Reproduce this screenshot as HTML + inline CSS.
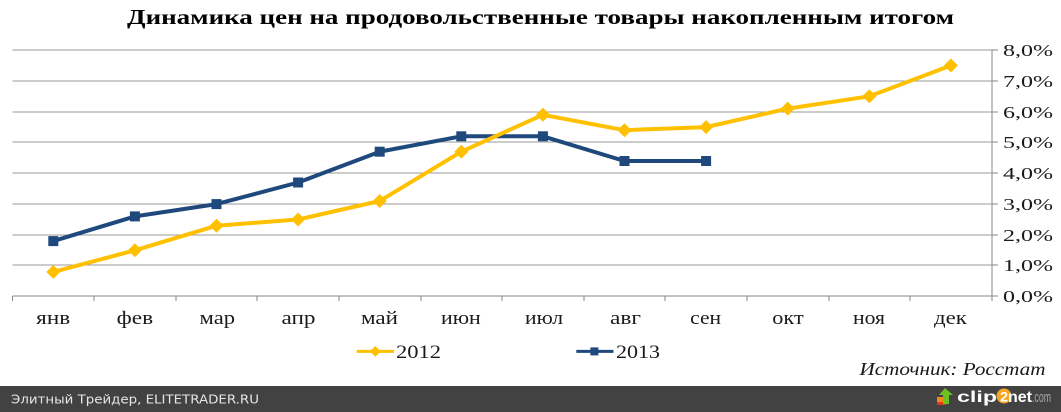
<!DOCTYPE html>
<html>
<head>
<meta charset="utf-8">
<style>
html,body{margin:0;padding:0;background:#fff;}
svg{display:block;}
</style>
</head>
<body>
<svg width="1061" height="412" viewBox="0 0 1061 412" xmlns="http://www.w3.org/2000/svg">
<rect x="0" y="0" width="1061" height="412" fill="#ffffff"/>
<!-- Title -->
<text x="540.5" y="24" text-anchor="middle" font-family="'Liberation Serif', serif" font-weight="bold" font-size="21" textLength="827" lengthAdjust="spacingAndGlyphs" fill="#000">Динамика цен на продовольственные товары накопленным итогом</text>

<!-- Gridlines -->
<g stroke="#999" stroke-width="1" shape-rendering="crispEdges">
<line x1="12.5" y1="50" x2="992" y2="50"/>
<line x1="12.5" y1="81" x2="992" y2="81"/>
<line x1="12.5" y1="112" x2="992" y2="112"/>
<line x1="12.5" y1="142" x2="992" y2="142"/>
<line x1="12.5" y1="173" x2="992" y2="173"/>
<line x1="12.5" y1="204" x2="992" y2="204"/>
<line x1="12.5" y1="235" x2="992" y2="235"/>
<line x1="12.5" y1="265" x2="992" y2="265"/>
</g>
<!-- Axes -->
<g stroke="#868686" stroke-width="1" shape-rendering="crispEdges">
<line x1="12.5" y1="296" x2="992" y2="296"/>
<line x1="992" y1="50" x2="992" y2="296"/>
<line x1="992" y1="50" x2="998" y2="50"/>
<line x1="992" y1="81" x2="998" y2="81"/>
<line x1="992" y1="112" x2="998" y2="112"/>
<line x1="992" y1="142" x2="998" y2="142"/>
<line x1="992" y1="173" x2="998" y2="173"/>
<line x1="992" y1="204" x2="998" y2="204"/>
<line x1="992" y1="235" x2="998" y2="235"/>
<line x1="992" y1="265" x2="998" y2="265"/>
<line x1="992" y1="296" x2="998" y2="296"/>
<line x1="12.5" y1="296" x2="12.5" y2="301"/>
<line x1="94" y1="296" x2="94" y2="301"/>
<line x1="176" y1="296" x2="176" y2="301"/>
<line x1="257" y1="296" x2="257" y2="301"/>
<line x1="339" y1="296" x2="339" y2="301"/>
<line x1="421" y1="296" x2="421" y2="301"/>
<line x1="502" y1="296" x2="502" y2="301"/>
<line x1="584" y1="296" x2="584" y2="301"/>
<line x1="665" y1="296" x2="665" y2="301"/>
<line x1="747" y1="296" x2="747" y2="301"/>
<line x1="829" y1="296" x2="829" y2="301"/>
<line x1="910" y1="296" x2="910" y2="301"/>
<line x1="992" y1="296" x2="992" y2="301"/>
</g>

<!-- Y labels -->
<g font-family="'Liberation Serif', serif" font-size="17" fill="#1a1a1a">
<text x="1003" y="56" textLength="50" lengthAdjust="spacingAndGlyphs">8,0%</text>
<text x="1003" y="87" textLength="50" lengthAdjust="spacingAndGlyphs">7,0%</text>
<text x="1003" y="118" textLength="50" lengthAdjust="spacingAndGlyphs">6,0%</text>
<text x="1003" y="148" textLength="50" lengthAdjust="spacingAndGlyphs">5,0%</text>
<text x="1003" y="179" textLength="50" lengthAdjust="spacingAndGlyphs">4,0%</text>
<text x="1003" y="210" textLength="50" lengthAdjust="spacingAndGlyphs">3,0%</text>
<text x="1003" y="241" textLength="50" lengthAdjust="spacingAndGlyphs">2,0%</text>
<text x="1003" y="271" textLength="50" lengthAdjust="spacingAndGlyphs">1,0%</text>
<text x="1003" y="302" textLength="50" lengthAdjust="spacingAndGlyphs">0,0%</text>
</g>

<!-- X labels -->
<g font-family="'Liberation Serif', serif" font-size="19" fill="#1a1a1a" text-anchor="middle">
<text x="53.2" y="324" textLength="34" lengthAdjust="spacingAndGlyphs">янв</text>
<text x="134.9" y="324" textLength="36.5" lengthAdjust="spacingAndGlyphs">фев</text>
<text x="217.3" y="324" textLength="35.5" lengthAdjust="spacingAndGlyphs">мар</text>
<text x="298.5" y="324" textLength="34" lengthAdjust="spacingAndGlyphs">апр</text>
<text x="379.5" y="324" textLength="37" lengthAdjust="spacingAndGlyphs">май</text>
<text x="460.9" y="324" textLength="39.7" lengthAdjust="spacingAndGlyphs">июн</text>
<text x="544" y="324" textLength="38" lengthAdjust="spacingAndGlyphs">июл</text>
<text x="625.5" y="324" textLength="31" lengthAdjust="spacingAndGlyphs">авг</text>
<text x="705.6" y="324" textLength="31" lengthAdjust="spacingAndGlyphs">сен</text>
<text x="788" y="324" textLength="31.4" lengthAdjust="spacingAndGlyphs">окт</text>
<text x="869" y="324" textLength="32" lengthAdjust="spacingAndGlyphs">ноя</text>
<text x="950.4" y="324" textLength="32.8" lengthAdjust="spacingAndGlyphs">дек</text>
</g>

<!-- Series 2013 -->
<polyline fill="none" stroke="#1f497d" stroke-width="4" stroke-linejoin="round"
 points="53.3,241.1 134.9,216.4 216.5,204.1 298.1,182.5 379.7,151.7 461.3,136.3 542.9,136.3 624.5,161 706.1,161"/>
<g fill="#1f497d">
<rect x="48.3" y="236.1" width="10" height="10"/>
<rect x="129.9" y="211.4" width="10" height="10"/>
<rect x="211.5" y="199.1" width="10" height="10"/>
<rect x="293.1" y="177.5" width="10" height="10"/>
<rect x="374.7" y="146.7" width="10" height="10"/>
<rect x="456.3" y="131.3" width="10" height="10"/>
<rect x="537.9" y="131.3" width="10" height="10"/>
<rect x="619.5" y="156" width="10" height="10"/>
<rect x="701.1" y="156" width="10" height="10"/>
</g>

<!-- Series 2012 -->
<polyline fill="none" stroke="#ffc000" stroke-width="4" stroke-linejoin="round"
 points="53.3,271.9 134.9,250.3 216.5,225.7 298.1,219.5 379.7,201 461.3,151.7 542.9,114.8 624.5,130.2 706.1,127.1 787.7,108.6 869.3,96.3 950.9,65.5"/>
<g fill="#ffc000">
<path d="M53.3,264.9 l7,7 l-7,7 l-7,-7z"/>
<path d="M134.9,243.3 l7,7 l-7,7 l-7,-7z"/>
<path d="M216.5,218.7 l7,7 l-7,7 l-7,-7z"/>
<path d="M298.1,212.5 l7,7 l-7,7 l-7,-7z"/>
<path d="M379.7,194 l7,7 l-7,7 l-7,-7z"/>
<path d="M461.3,144.7 l7,7 l-7,7 l-7,-7z"/>
<path d="M542.9,107.8 l7,7 l-7,7 l-7,-7z"/>
<path d="M624.5,123.2 l7,7 l-7,7 l-7,-7z"/>
<path d="M706.1,120.1 l7,7 l-7,7 l-7,-7z"/>
<path d="M787.7,101.6 l7,7 l-7,7 l-7,-7z"/>
<path d="M869.3,89.3 l7,7 l-7,7 l-7,-7z"/>
<path d="M950.9,58.5 l7,7 l-7,7 l-7,-7z"/>
</g>

<!-- Legend -->
<line x1="356.7" y1="351.4" x2="394" y2="351.4" stroke="#ffc000" stroke-width="3"/>
<path d="M375.3,346 l5.4,5.4 l-5.4,5.4 l-5.4,-5.4z" fill="#ffc000"/>
<text x="396" y="358" font-family="'Liberation Serif', serif" font-size="19" fill="#1a1a1a" textLength="45" lengthAdjust="spacingAndGlyphs">2012</text>
<line x1="576.3" y1="351.4" x2="613.5" y2="351.4" stroke="#1f497d" stroke-width="3"/>
<rect x="590.4" y="347.4" width="8" height="8" fill="#1f497d"/>
<text x="616" y="358" font-family="'Liberation Serif', serif" font-size="19" fill="#1a1a1a" textLength="44" lengthAdjust="spacingAndGlyphs">2013</text>

<!-- Source -->
<text x="1045.5" y="375" text-anchor="end" font-family="'Liberation Serif', serif" font-style="italic" font-size="18" fill="#1a1a1a" textLength="186" lengthAdjust="spacingAndGlyphs">Источник: Росстат</text>

<!-- Bottom bar -->
<rect x="0" y="386" width="1061" height="26" fill="#424242"/>
<text x="11" y="403.5" font-family="'DejaVu Sans', sans-serif" font-size="12.5" fill="#e6e6e6" textLength="248" lengthAdjust="spacingAndGlyphs">Элитный Трейдер, ELITETRADER.RU</text>

<!-- clip2net logo -->
<g>
<rect x="937" y="397" width="9" height="7" fill="#f08a1a"/>
<rect x="937" y="402" width="9" height="3" fill="#d83a1a"/>
<path d="M945,388 l8,7 h-4 v9 h-6 v-9 h-4z" fill="#6cc020"/>
<text x="957" y="402" font-family="'Liberation Sans', sans-serif" font-weight="bold" font-size="16" fill="#ffffff" textLength="40" lengthAdjust="spacingAndGlyphs">clip</text>
<circle cx="1004" cy="396" r="7.5" fill="#f5a623"/>
<text x="1004" y="401.5" text-anchor="middle" font-family="'Liberation Sans', sans-serif" font-weight="bold" font-size="14" fill="#ffffff">2</text>
<text x="1008" y="402" font-family="'Liberation Sans', sans-serif" font-weight="bold" font-size="16" fill="#ffffff" textLength="24" lengthAdjust="spacingAndGlyphs">net</text>
<text x="1032" y="402" font-family="'Liberation Sans', sans-serif" font-size="15" fill="#a8a8a8" textLength="19" lengthAdjust="spacingAndGlyphs">.com</text>
</g>
</svg>
</body>
</html>
